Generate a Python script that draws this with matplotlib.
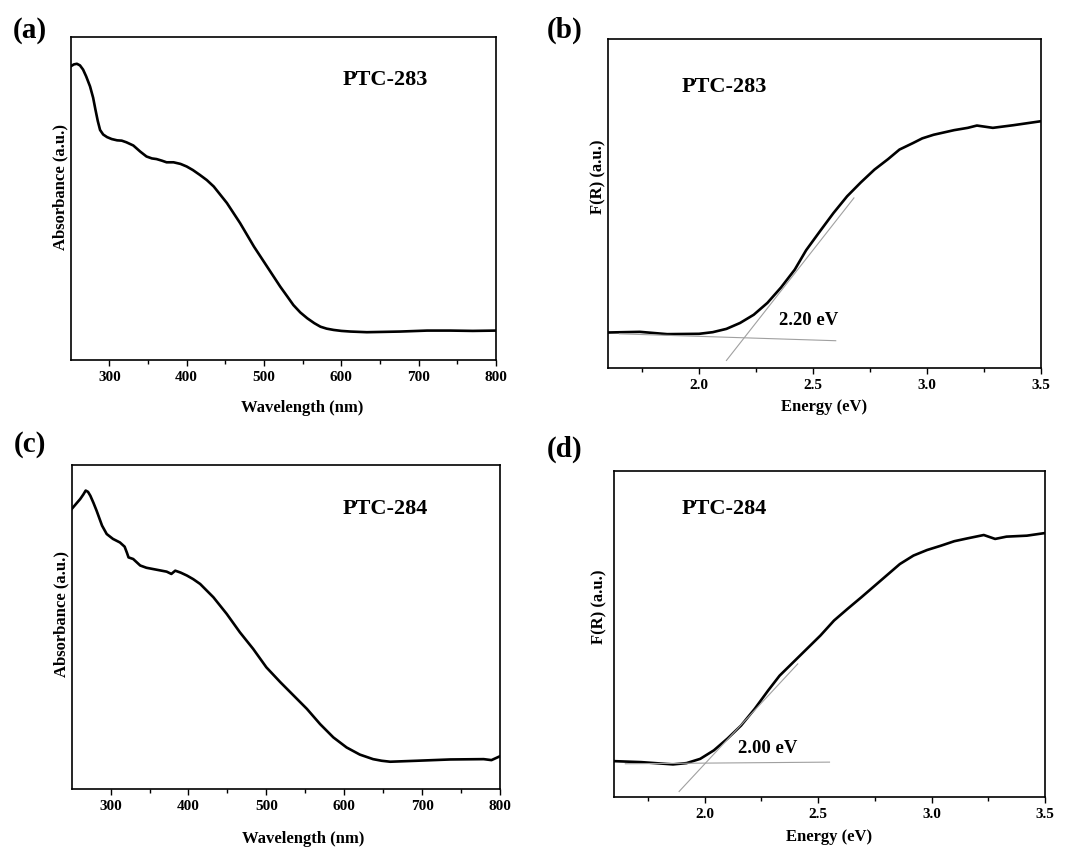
import matplotlib
matplotlib.use('Agg')
import matplotlib.pyplot as plt
from matplotlib.ticker import FixedLocator

plt.rcParams['font.family'] = ['Liberation Serif', 'DejaVu Serif']
plt.rcParams['font.weight'] = 'bold'

# Panel (a): PTC-283 UV-vis absorbance
wl_a = [250, 254, 258, 262, 266, 270, 275, 279, 282, 285, 288, 292, 297, 303,
        310, 316, 322, 331, 340, 348, 355, 361, 368, 374, 383, 392, 400, 408,
        417, 426, 435, 452, 469, 487, 504, 521, 530, 538, 547, 556, 565, 573,
        581, 590, 600, 612, 633, 655, 676, 711, 741, 770, 800]
abs_a = [0.909, 0.915, 0.917, 0.912, 0.899, 0.878, 0.847, 0.812, 0.775, 0.740,
         0.712, 0.698, 0.690, 0.684, 0.680, 0.679, 0.674, 0.664, 0.645, 0.630,
         0.624, 0.622, 0.617, 0.612, 0.612, 0.607, 0.599, 0.588, 0.573, 0.557,
         0.537, 0.486, 0.424, 0.351, 0.289, 0.227, 0.197, 0.170, 0.147, 0.129,
         0.114, 0.103, 0.097, 0.093, 0.090, 0.088, 0.086, 0.087, 0.088, 0.091,
         0.091, 0.090, 0.091]

# Panel (b): PTC-283 Kubelka-Munk
en_b = [1.60, 1.74, 1.86, 2.00, 2.06, 2.12, 2.18, 2.24, 2.30, 2.36, 2.42, 2.47,
        2.53, 2.59, 2.65, 2.71, 2.77, 2.83, 2.88, 2.94, 2.98, 3.03, 3.12, 3.18,
        3.22, 3.29, 3.38, 3.50]
fr_b = [0.108, 0.110, 0.103, 0.104, 0.109, 0.119, 0.137, 0.162, 0.198, 0.245,
        0.299, 0.358, 0.415, 0.471, 0.522, 0.564, 0.603, 0.635, 0.664, 0.684,
        0.698, 0.709, 0.723, 0.730, 0.737, 0.730, 0.738, 0.750]
tan_b_x = [2.12, 2.68]
tan_b_y = [0.023, 0.517]
base_b_x = [1.65, 2.60]
base_b_y = [0.104, 0.083]

# Panel (c): PTC-284 UV-vis absorbance
wl_c = [250, 256, 261, 265, 268, 271, 274, 278, 282, 289, 295, 303, 312, 318,
        321, 323, 329, 338, 346, 359, 372, 378, 383, 390, 398, 406, 415, 432,
        449, 466, 483, 500, 518, 535, 552, 569, 586, 603, 620, 637, 648, 659,
        693, 736, 779, 789, 800]
abs_c = [0.863, 0.880, 0.894, 0.908, 0.920, 0.916, 0.904, 0.882, 0.858, 0.812,
         0.786, 0.771, 0.760, 0.747, 0.728, 0.714, 0.709, 0.689, 0.682, 0.676,
         0.670, 0.663, 0.673, 0.667, 0.658, 0.647, 0.632, 0.591, 0.540, 0.483,
         0.432, 0.375, 0.329, 0.288, 0.247, 0.200, 0.159, 0.128, 0.106, 0.092,
         0.087, 0.084, 0.087, 0.091, 0.092, 0.089, 0.101]

# Panel (d): PTC-284 Kubelka-Munk
en_d = [1.60, 1.72, 1.86, 1.92, 1.98, 2.04, 2.10, 2.16, 2.22, 2.28, 2.33, 2.39,
        2.45, 2.51, 2.57, 2.63, 2.69, 2.75, 2.81, 2.86, 2.92, 2.98, 3.04, 3.10,
        3.16, 3.23, 3.28, 3.33, 3.42, 3.50]
fr_d = [0.110, 0.107, 0.100, 0.104, 0.117, 0.143, 0.179, 0.219, 0.270, 0.327,
        0.372, 0.413, 0.454, 0.495, 0.541, 0.577, 0.612, 0.648, 0.684, 0.714,
        0.740, 0.757, 0.770, 0.784, 0.793, 0.803, 0.791, 0.798, 0.801, 0.809]
tan_d_x = [1.887, 2.41]
tan_d_y = [0.017, 0.408]
base_d_x = [1.65, 2.55]
base_d_y = [0.102, 0.107]


fig = plt.figure(figsize=(10.68, 8.48), dpi=100)

ax_a = fig.add_axes([0.0662, 0.5755, 0.3982, 0.3809])
ax_b = fig.add_axes([0.5693, 0.5660, 0.4051, 0.3880])
ax_c = fig.add_axes([0.0671, 0.0696, 0.4011, 0.3825])
ax_d = fig.add_axes([0.5749, 0.0601, 0.4036, 0.3848])


def style(ax):
    for s in ax.spines.values():
        s.set_linewidth(1.2)
    ax.set_yticks([])
    ax.tick_params(axis='x', which='major', direction='out', length=4,
                   width=1.0, pad=4, labelsize=11, top=False)
    ax.tick_params(axis='x', which='minor', direction='out', length=3,
                   width=1.0, top=False)
    ax.set_ylim(0, 1)


# (a)
ax_a.plot(wl_a, abs_a, color='black', linewidth=1.9)
ax_a.set_xlim(250, 800)
ax_a.set_xticks([300, 400, 500, 600, 700, 800])
ax_a.xaxis.set_minor_locator(FixedLocator([350, 450, 550, 650, 750]))
style(ax_a)
ax_a.text(657, 0.868, 'PTC-283', fontsize=16, ha='center', va='center')

# (b)
ax_b.plot(en_b, fr_b, color='black', linewidth=1.9)
ax_b.plot(tan_b_x, tan_b_y, color='#a0a0a0', linewidth=0.8)
ax_b.plot(base_b_x, base_b_y, color='#a0a0a0', linewidth=0.8)
ax_b.set_xlim(1.6, 3.5)
ax_b.set_xticks([2.0, 2.5, 3.0, 3.5])
ax_b.set_xticklabels(['2.0', '2.5', '3.0', '3.5'])
ax_b.xaxis.set_minor_locator(FixedLocator([1.75, 2.25, 2.75, 3.25]))
style(ax_b)
ax_b.text(2.11, 0.854, 'PTC-283', fontsize=16, ha='center', va='center')
ax_b.text(2.48, 0.144, '2.20 eV', fontsize=13.5, ha='center', va='center')

# (c)
ax_c.plot(wl_c, abs_c, color='black', linewidth=1.9)
ax_c.set_xlim(250, 800)
ax_c.set_xticks([300, 400, 500, 600, 700, 800])
ax_c.xaxis.set_minor_locator(FixedLocator([350, 450, 550, 650, 750]))
style(ax_c)
ax_c.text(652, 0.863, 'PTC-284', fontsize=16, ha='center', va='center')

# (d)
ax_d.plot(en_d, fr_d, color='black', linewidth=1.9)
ax_d.plot(tan_d_x, tan_d_y, color='#a0a0a0', linewidth=0.8)
ax_d.plot(base_d_x, base_d_y, color='#a0a0a0', linewidth=0.8)
ax_d.set_xlim(1.6, 3.5)
ax_d.set_xticks([2.0, 2.5, 3.0, 3.5])
ax_d.set_xticklabels(['2.0', '2.5', '3.0', '3.5'])
ax_d.xaxis.set_minor_locator(FixedLocator([1.75, 2.25, 2.75, 3.25]))
style(ax_d)
ax_d.text(2.085, 0.883, 'PTC-284', fontsize=16, ha='center', va='center')
ax_d.text(2.276, 0.148, '2.00 eV', fontsize=13.5, ha='center', va='center')

# Axis titles placed by hand to match the layout.
ax_a.text(0.544, -0.149, 'Wavelength (nm)', transform=ax_a.transAxes,
          fontsize=12, ha='center', va='center')
ax_b.text(0.50, -0.119, 'Energy (eV)', transform=ax_b.transAxes,
          fontsize=12, ha='center', va='center')
ax_c.text(0.54, -0.154, 'Wavelength (nm)', transform=ax_c.transAxes,
          fontsize=12, ha='center', va='center')
ax_d.text(0.50, -0.123, 'Energy (eV)', transform=ax_d.transAxes,
          fontsize=12, ha='center', va='center')

ax_a.text(-0.025, 0.535, 'Absorbance (a.u.)', transform=ax_a.transAxes,
          rotation=90, fontsize=12, ha='center', va='center')
ax_b.text(-0.023, 0.58, 'F(R) (a.u.)', transform=ax_b.transAxes,
          rotation=90, fontsize=12, ha='center', va='center')
ax_c.text(-0.025, 0.54, 'Absorbance (a.u.)', transform=ax_c.transAxes,
          rotation=90, fontsize=12, ha='center', va='center')
ax_d.text(-0.034, 0.582, 'F(R) (a.u.)', transform=ax_d.transAxes,
          rotation=90, fontsize=12, ha='center', va='center')

# Panel letters
fig.text(30 / 1068, 1 - 31 / 848, '(a)', fontsize=21, ha='center', va='center')
fig.text(565 / 1068, 1 - 30 / 848, '(b)', fontsize=21, ha='center', va='center')
fig.text(30 / 1068, 1 - 445 / 848, '(c)', fontsize=21, ha='center', va='center')
fig.text(565 / 1068, 1 - 449 / 848, '(d)', fontsize=21, ha='center', va='center')

fig.savefig('out.png', dpi=100)
